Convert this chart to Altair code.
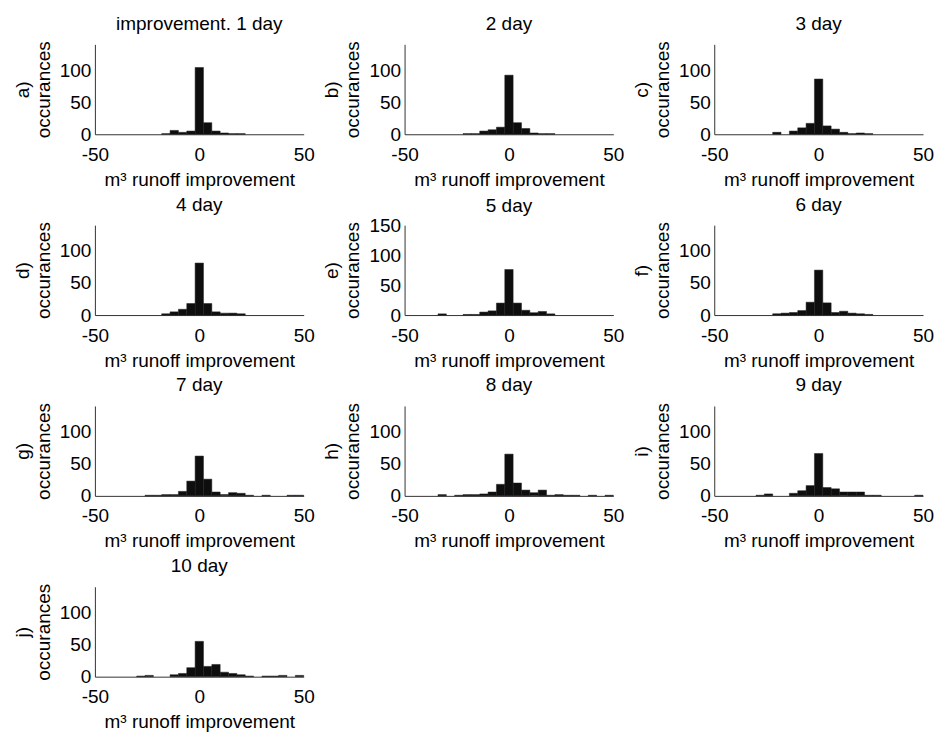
import altair as alt
import pandas as pd

# histogram bin centres (width 4) shared by all panels
bin_centers = list(range(-48, 49, 4))

panel_titles = ["improvement. 1 day", "2 day", "3 day", "4 day", "5 day",
                "6 day", "7 day", "8 day", "9 day", "10 day"]
panel_letters = ["a)", "b)", "c)", "d)", "e)", "f)", "g)", "h)", "i)", "j)"]

# occurrences per bin, bins -48 ... 48
counts_a = [0, 0, 0, 0, 0, 0, 0, 0, 1, 6, 3, 5, 104, 18, 5, 2, 1, 1, 0, 0, 0, 0, 0, 0, 0]
counts_b = [0, 0, 0, 0, 0, 0, 0, 1, 1, 5, 7, 11, 92, 18, 9, 2, 1, 1, 0, 0, 0, 0, 0, 0, 0]
counts_c = [0, 0, 0, 0, 0, 0, 0, 3, 0, 5, 10, 17, 86, 13, 8, 3, 1, 2, 1, 0, 0, 0, 0, 0, 0]
counts_d = [0, 0, 0, 0, 0, 0, 0, 0, 2, 5, 9, 18, 81, 18, 5, 3, 3, 2, 0, 0, 0, 0, 0, 0, 0]
counts_e = [0, 0, 0, 0, 2, 0, 0, 1, 1, 5, 7, 20, 76, 20, 8, 4, 6, 2, 0, 0, 0, 0, 0, 0, 0]
counts_f = [0, 0, 0, 0, 0, 0, 0, 2, 3, 4, 7, 20, 70, 19, 4, 6, 3, 2, 1, 0, 0, 0, 0, 0, 0]
counts_g = [0, 0, 0, 0, 0, 0, 1, 1, 2, 2, 7, 23, 62, 26, 6, 2, 5, 4, 1, 0, 1, 0, 0, 1, 1]
counts_h = [0, 0, 0, 0, 2, 0, 1, 2, 2, 3, 6, 18, 65, 20, 9, 5, 9, 1, 2, 1, 1, 0, 1, 0, 1]
counts_i = [0, 0, 0, 0, 0, 1, 3, 0, 0, 4, 8, 16, 66, 13, 11, 6, 6, 6, 1, 1, 0, 0, 0, 0, 1]
counts_j = [0, 0, 0, 0, 0, 1, 2, 0, 0, 3, 5, 14, 55, 16, 19, 7, 5, 3, 1, 0, 1, 1, 2, 0, 2]

all_counts = [counts_a, counts_b, counts_c, counts_d, counts_e,
              counts_f, counts_g, counts_h, counts_i, counts_j]

y_max = [140, 140, 140, 140, 150, 140, 140, 140, 140, 140]
y_ticks = [[0, 50, 100], [0, 50, 100], [0, 50, 100], [0, 50, 100], [0, 50, 100, 150],
           [0, 50, 100], [0, 50, 100], [0, 50, 100], [0, 50, 100], [0, 50, 100]]
x_ticks = [-50, 0, 50]

FONT = "Liberation Sans, Arial, Helvetica, sans-serif"
FS = 19
BIN_W = 4


def panel(k):
    df = pd.DataFrame({
        "lo": [c - BIN_W / 2 for c in bin_centers],
        "hi": [c + BIN_W / 2 for c in bin_centers],
        "n": all_counts[k],
    })
    df = df[df["n"] > 0]
    # panel e has an extra "150" label at the top; keep its title level with the row
    title_offset = 0 if y_max[k] == 150 else 7
    return (
        alt.Chart(df)
        .mark_bar(color="#0e0e0e", stroke="#1e1e1e", strokeWidth=0.5)
        .encode(
            x=alt.X("lo:Q",
                    scale=alt.Scale(domain=[-50, 50], nice=False, zero=False),
                    axis=alt.Axis(values=x_ticks, title="m³ runoff improvement",
                                  labelExpr="'' + datum.value")),
            x2="hi:Q",
            y=alt.Y("n:Q",
                    scale=alt.Scale(domain=[0, y_max[k]], nice=False),
                    axis=alt.Axis(values=y_ticks[k], title=[panel_letters[k], "occurances"])),
            y2=alt.datum(0),
        )
        .properties(
            width=209, height=90,
            title=alt.TitleParams(panel_titles[k], frame="group", anchor="middle",
                                  fontSize=FS, font=FONT, fontWeight="normal",
                                  color="#000000", offset=title_offset),
        )
    )


chart = (
    alt.concat(*[panel(k) for k in range(10)], columns=3,
               spacing={"row": 6, "column": 8})
    .properties(padding={"left": 5, "top": 6, "right": 0, "bottom": 0})
    .configure(background="white")
    .configure_view(stroke=None)
    .configure_axis(
        grid=False, ticks=False, tickSize=0, labelFlush=False,
        domainColor="#333333", domainWidth=1,
        labelFont=FONT, labelFontSize=FS, labelColor="#000000", labelPadding=11,
        titleFont=FONT, titleFontSize=FS, titleColor="#000000",
        titleFontWeight="normal", titlePadding=6, titleLineHeight=21,
    )
    .configure_axisY(labelPadding=4, titlePadding=6)
)

chart.save("out.html", embed_options={"renderer": "svg", "actions": False})
